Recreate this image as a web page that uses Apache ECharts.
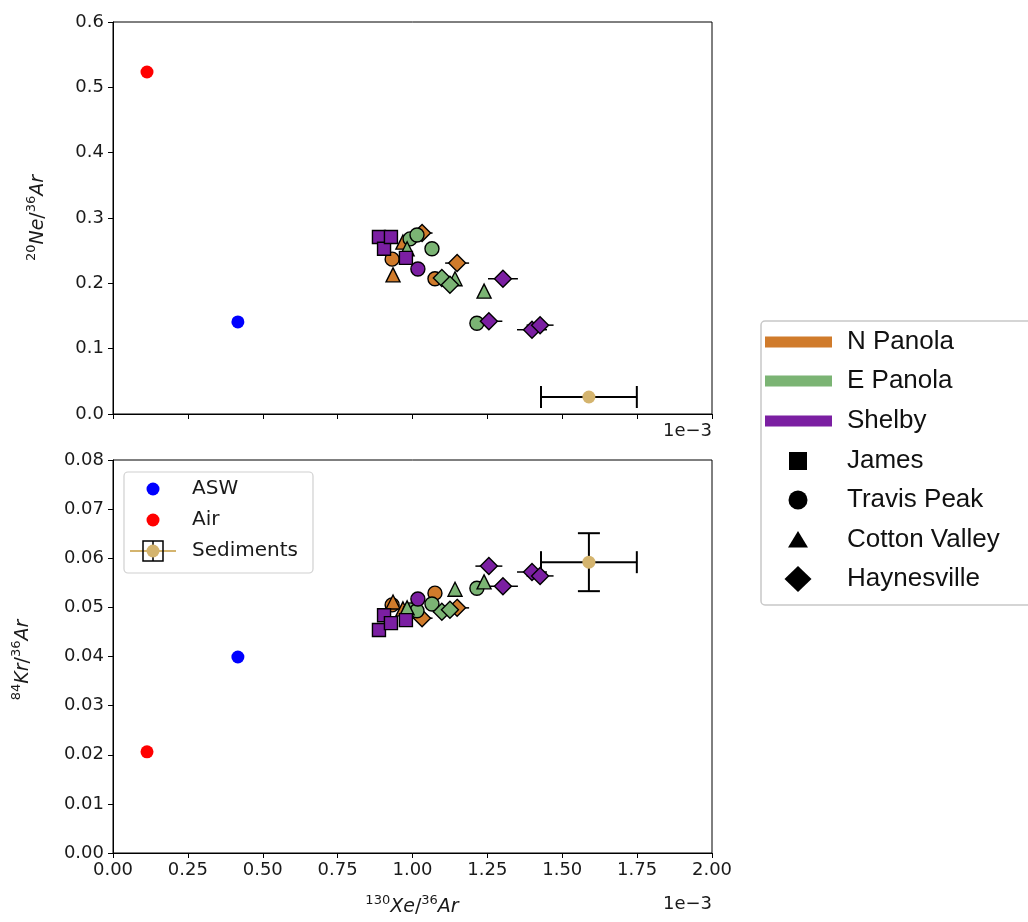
<!DOCTYPE html>
<html><head><meta charset="utf-8">
<script src="https://cdn.jsdelivr.net/npm/echarts@6/dist/echarts.min.js"></script>
<style>html,body{margin:0;padding:0;background:#fff}#c{width:1028px;height:922px}</style>
</head><body><div id="c"></div>
<script>
// ---------- data ----------
const regions = ['N Panola', 'E Panola', 'Shelby'];
const formations = ['James', 'Travis Peak', 'Cotton Valley', 'Haynesville'];

// per-sample values (130Xe/36Ar in units of 1e-3)
const sampleRegion    = [0, 0, 0, 0, 0, 0,   1, 1, 1, 1, 1, 1, 1, 1, 1,   2, 2, 2, 2, 2, 2, 2, 2, 2];
const sampleFormation = [1, 1, 2, 2, 3, 3,   1, 1, 1, 1, 2, 2, 2, 3, 3,   0, 0, 0, 0, 1, 3, 3, 3, 3];
const xeAr  = [0.932, 1.075, 0.935, 0.968, 1.032, 1.149,
               0.992, 1.015, 1.065, 1.215, 0.982, 1.142, 1.239, 1.098, 1.125,
               0.888, 0.905, 0.928, 0.978, 1.018, 1.255, 1.302, 1.399, 1.426];
const neAr  = [0.237, 0.207, 0.213, 0.263, 0.277, 0.231,
               0.268, 0.274, 0.253, 0.139, 0.253, 0.207, 0.188, 0.208, 0.198,
               0.271, 0.253, 0.271, 0.239, 0.222, 0.142, 0.207, 0.129, 0.136];
const krAr  = [0.0505, 0.0529, 0.0511, 0.0497, 0.0478, 0.0499,
               0.0495, 0.0493, 0.0507, 0.0539, 0.0499, 0.0537, 0.0552, 0.0491, 0.0495,
               0.0454, 0.0484, 0.0468, 0.0474, 0.0517, 0.0584, 0.0543, 0.0572, 0.0564];
const xeErr = [0, 0, 0, 0, 0.035, 0.04,
               0, 0, 0, 0, 0, 0, 0, 0.03, 0.03,
               0, 0, 0, 0, 0, 0.045, 0.05, 0.05, 0.045];

const refNames = ['ASW', 'Air', 'Sediments'];
const refXe = [0.417, 0.1135, 1.589];
const refNe = [0.141, 0.5235, 0.026];
const refKr = [0.0399, 0.0206, 0.0592];
const sedXeErr = 0.16;
const sedKrErr = 0.0059;

// ---------- style ----------
const regionColors = ['#d07b2b', '#7bb474', '#7b1fa2'];
const refColors = ['#0000ff', '#ff0000', '#d4b46e'];
const formSymbols = ['rect', 'circle', 'triangle', 'diamond'];
const formSizes = [13, 14, 14, 17];
const tickFont = 'DejaVu Sans';

function errRender(cap, lw) {
  return function (params, api) {
    const x = api.value(0), y = api.value(1), ex = api.value(2), ey = api.value(3);
    const st = { stroke: '#000', lineWidth: lw };
    const ch = [];
    if (ex > 0) {
      const a = api.coord([x - ex, y]), b = api.coord([x + ex, y]);
      ch.push({ type: 'line', shape: { x1: a[0], y1: a[1], x2: b[0], y2: b[1] }, style: st });
      if (cap) {
        ch.push({ type: 'line', shape: { x1: a[0], y1: a[1] - cap, x2: a[0], y2: a[1] + cap }, style: st });
        ch.push({ type: 'line', shape: { x1: b[0], y1: b[1] - cap, x2: b[0], y2: b[1] + cap }, style: st });
      }
    }
    if (ey > 0) {
      const a = api.coord([x, y - ey]), b = api.coord([x, y + ey]);
      ch.push({ type: 'line', shape: { x1: a[0], y1: a[1], x2: b[0], y2: b[1] }, style: st });
      if (cap) {
        ch.push({ type: 'line', shape: { x1: a[0] - cap, y1: a[1], x2: a[0] + cap, y2: a[1] }, style: st });
        ch.push({ type: 'line', shape: { x1: b[0] - cap, y1: b[1], x2: b[0] + cap, y2: b[1] }, style: st });
      }
    }
    return { type: 'group', children: ch };
  };
}

const series = [];
// sample error bars (x only)
[0, 1].forEach(g => {
  const d = [];
  xeAr.forEach((x, i) => { if (xeErr[i] > 0) d.push([x, g === 0 ? neAr[i] : krAr[i], xeErr[i], 0]); });
  series.push({ type: 'custom', xAxisIndex: g, yAxisIndex: g, z: 1, renderItem: errRender(0, 1.5), data: d, silent: true });
});
// sample markers
regions.forEach((r, ri) => {
  formations.forEach((f, fi) => {
    [0, 1].forEach(g => {
      const d = [];
      xeAr.forEach((x, i) => {
        if (sampleRegion[i] === ri && sampleFormation[i] === fi) d.push([x, g === 0 ? neAr[i] : krAr[i]]);
      });
      if (!d.length) return;
      series.push({
        type: 'scatter', xAxisIndex: g, yAxisIndex: g, z: 3, data: d,
        symbol: formSymbols[fi], symbolSize: formSizes[fi],
        itemStyle: { color: regionColors[ri], borderColor: '#000', borderWidth: 1.4, opacity: 1 }
      });
    });
  });
});
// reference points
[0, 1].forEach(g => {
  series.push({
    type: 'custom', xAxisIndex: g, yAxisIndex: g, z: 2, silent: true,
    renderItem: errRender(11, 2),
    data: [[refXe[2], g === 0 ? refNe[2] : refKr[2], sedXeErr, g === 0 ? 0 : sedKrErr]]
  });
  refNames.forEach((n, k) => {
    series.push({
      type: 'scatter', xAxisIndex: g, yAxisIndex: g, z: 4,
      data: [[refXe[k], g === 0 ? refNe[k] : refKr[k]]],
      symbol: 'circle', symbolSize: 13, itemStyle: { color: refColors[k], opacity: 1 }
    });
  });
});

function xAxisCfg(g) {
  return {
    gridIndex: g, type: 'value', min: 0, max: 2, interval: 0.25,
    axisLine: { show: true, onZero: false, lineStyle: { color: '#000', width: 1 } },
    axisTick: { show: true, length: 5, lineStyle: { color: '#000' } },
    splitLine: { show: false },
    axisLabel: g === 0 ? { show: false } : {
      formatter: v => v.toFixed(2), fontSize: 18, color: '#1a1a1a', fontFamily: tickFont, margin: 8
    }
  };
}
function yAxisCfg(g, max, interval, dec) {
  return {
    gridIndex: g, type: 'value', min: 0, max: max, interval: interval,
    axisLine: { show: true, onZero: false, lineStyle: { color: '#000', width: 1 } },
    axisTick: { show: true, length: 5, lineStyle: { color: '#000' } },
    splitLine: { show: false },
    axisLabel: { formatter: v => v.toFixed(dec), fontSize: 18, color: '#1a1a1a', fontFamily: tickFont, margin: 9 }
  };
}

// legend graphics
const rightRows = [342, 381, 421, 461, 500, 540, 579];
const rightLabels = regions.concat(formations);
const rightLegend = [
  { type: 'rect', shape: { x: 761, y: 321, width: 300, height: 284, r: 4 }, style: { fill: '#fff', stroke: '#c8c8c8', lineWidth: 1.5 }, z: 10 }
];
regions.forEach((r, i) => {
  rightLegend.push({ type: 'rect', shape: { x: 765, y: rightRows[i] - 5.5, width: 67, height: 11 }, style: { fill: regionColors[i] }, z: 11 });
});
const symCx = 798;
rightLegend.push({ type: 'rect', shape: { x: symCx - 9, y: rightRows[3] - 9, width: 18, height: 18 }, style: { fill: '#000' }, z: 11 });
rightLegend.push({ type: 'circle', shape: { cx: symCx, cy: rightRows[4], r: 9.5 }, style: { fill: '#000' }, z: 11 });
rightLegend.push({ type: 'polygon', shape: { points: [[symCx, rightRows[5] - 9], [symCx - 10, rightRows[5] + 7.5], [symCx + 10, rightRows[5] + 7.5]] }, style: { fill: '#000' }, z: 11 });
rightLegend.push({ type: 'polygon', shape: { points: [[symCx, rightRows[6] - 13], [symCx + 13.5, rightRows[6]], [symCx, rightRows[6] + 13], [symCx - 13.5, rightRows[6]]] }, style: { fill: '#000' }, z: 11 });
rightLabels.forEach((t, i) => {
  rightLegend.push({ type: 'text', x: 847, y: rightRows[i], style: { text: t, fontSize: 26, fontFamily: 'Liberation Sans', fill: '#111', verticalAlign: 'middle', align: 'left' }, z: 11 });
});

const leftRows = [489, 520, 551];
const leftLegend = [
  { type: 'rect', shape: { x: 124, y: 472, width: 189, height: 101, r: 4 }, style: { fill: 'rgba(255,255,255,0.8)', stroke: '#d0d0d0', lineWidth: 1.2 }, z: 10 },
  { type: 'circle', shape: { cx: 153, cy: leftRows[0], r: 6.5 }, style: { fill: refColors[0] }, z: 11 },
  { type: 'circle', shape: { cx: 153, cy: leftRows[1], r: 6.5 }, style: { fill: refColors[1] }, z: 11 },
  { type: 'line', shape: { x1: 130, y1: leftRows[2], x2: 176, y2: leftRows[2] }, style: { stroke: refColors[2], lineWidth: 2 }, z: 11 },
  { type: 'rect', shape: { x: 143, y: leftRows[2] - 10, width: 20, height: 20 }, style: { fill: 'none', stroke: '#000', lineWidth: 1.5 }, z: 12 },
  { type: 'line', shape: { x1: 153, y1: leftRows[2] - 10, x2: 153, y2: leftRows[2] + 10 }, style: { stroke: '#000', lineWidth: 1.5 }, z: 12 },
  { type: 'circle', shape: { cx: 153, cy: leftRows[2], r: 6.5 }, style: { fill: refColors[2] }, z: 13 }
];
refNames.forEach((t, i) => {
  leftLegend.push({ type: 'text', x: 192, y: leftRows[i], style: { text: t, fontSize: 20, fontFamily: tickFont, fill: '#1a1a1a', verticalAlign: 'middle' }, z: 13 });
});

const richLab = {
  s: { fontSize: 13, fontFamily: tickFont, verticalAlign: 'top', lineHeight: 13, fill: '#1a1a1a' },
  m: { fontSize: 19, fontFamily: tickFont, fontStyle: 'italic', lineHeight: 26, fill: '#1a1a1a' },
  p: { fontSize: 19, fontFamily: tickFont, lineHeight: 26, fill: '#1a1a1a' }
};
const axisTitles = [
  { type: 'text', x: 38, y: 218, rotation: Math.PI / 2, style: { text: '{s|20}{m|Ne}{p|/}{s|36}{m|Ar}', rich: richLab, align: 'center', verticalAlign: 'middle' }, z: 5 },
  { type: 'text', x: 23, y: 660, rotation: Math.PI / 2, style: { text: '{s|84}{m|Kr}{p|/}{s|36}{m|Ar}', rich: richLab, align: 'center', verticalAlign: 'middle' }, z: 5 },
  { type: 'text', x: 412, y: 907, style: { text: '{s|130}{m|Xe}{p|/}{s|36}{m|Ar}', rich: richLab, align: 'center', verticalAlign: 'middle' }, z: 5 },
  { type: 'text', x: 712, y: 431, style: { text: '1e\u22123', fontSize: 18, fontFamily: tickFont, fill: '#1a1a1a', align: 'right', verticalAlign: 'middle' }, z: 5 },
  { type: 'text', x: 712, y: 904, style: { text: '1e\u22123', fontSize: 18, fontFamily: tickFont, fill: '#1a1a1a', align: 'right', verticalAlign: 'middle' }, z: 5 }
];

const chart = echarts.init(document.getElementById('c'), null, { renderer: 'canvas' });
chart.setOption({
  animation: false,
  backgroundColor: '#fff',
  grid: [
    { left: 113, top: 22, width: 599, height: 392, show: true, borderColor: '#000', borderWidth: 1, backgroundColor: 'transparent' },
    { left: 113, top: 460, width: 599, height: 393, show: true, borderColor: '#000', borderWidth: 1, backgroundColor: 'transparent' }
  ],
  xAxis: [xAxisCfg(0), xAxisCfg(1)],
  yAxis: [yAxisCfg(0, 0.6, 0.1, 1), yAxisCfg(1, 0.08, 0.01, 2)],
  series: series,
  graphic: { elements: axisTitles.concat(leftLegend, rightLegend) }
});
</script>
</body></html>
